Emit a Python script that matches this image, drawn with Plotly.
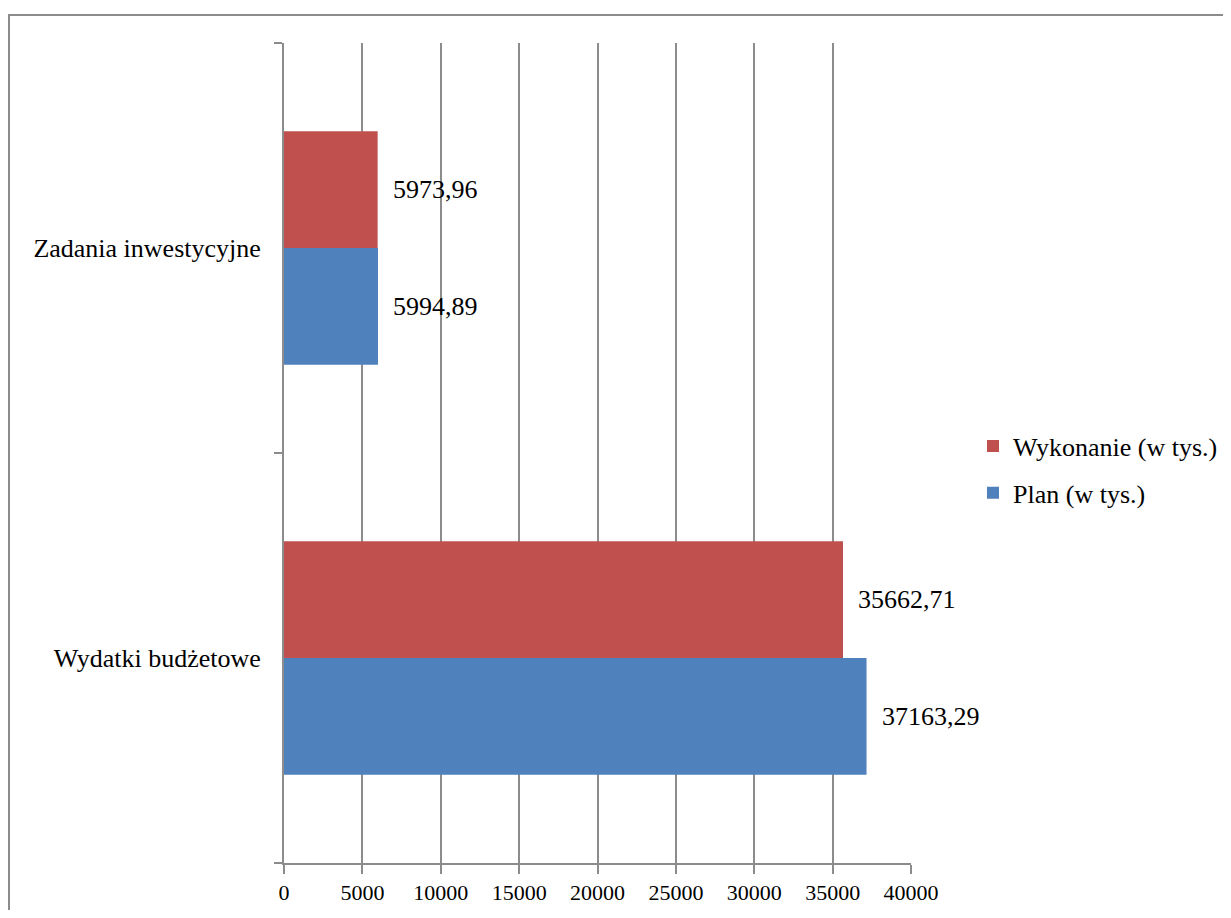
import plotly.graph_objects as go

categories = ["Wydatki budżetowe", "Zadania inwestycyjne"]
plan_values = [37163.29, 5994.89]
wykonanie_values = [35662.71, 5973.96]
series_names = ["Plan (w tys.)", "Wykonanie (w tys.)"]
x_tick_values = [0, 5000, 10000, 15000, 20000, 25000, 30000, 35000, 40000]

FONT = "Liberation Serif, Times New Roman, serif"
GRAY = "#8c8c8c"
BLUE = "#4f81bd"
RED = "#c0504d"

# page has an 8px body margin; figure is sized to fit the window
OFF = 8
W, H = 1231 - 2 * OFF, 918 - 2 * OFF
L, R, T, B = 284 - OFF, 911 - OFF, 43 - OFF, 863 - OFF

def fmt(v):
    return f"{v:.2f}".replace(".", ",")

fig = go.Figure()
fig.add_trace(go.Bar(y=categories, x=plan_values, orientation="h", name=series_names[0],
                     marker=dict(color=BLUE, line=dict(width=0)), legendrank=2, legendgroup="p"))
fig.add_trace(go.Bar(y=categories, x=wykonanie_values, orientation="h", name=series_names[1],
                     marker=dict(color=RED, line=dict(width=0)), legendrank=1, legendgroup="w"))

bargap = 0.43
bar_px = (B - T) / len(categories) * (1 - bargap) / 2
for vals, sign in ((plan_values, -1), (wykonanie_values, 1)):
    for c, v in zip(categories, vals):
        fig.add_annotation(x=v, y=c, text=fmt(v), showarrow=False, xanchor="left",
                           xshift=13, yshift=sign * bar_px / 2,
                           font=dict(family=FONT, size=26, color="black"))

# outer frame
fig.add_shape(type="rect", xref="paper", yref="paper",
              x0=(9 - OFF - L) / (R - L), x1=(1400 - L) / (R - L),
              y0=(B - 1200) / (B - T), y1=(B - (15 - OFF)) / (B - T),
              line=dict(color=GRAY, width=2), layer="below")

fig.update_layout(
    width=W, height=H,
    margin=dict(l=L, r=W - R, t=T, b=H - B, autoexpand=False),
    paper_bgcolor="white", plot_bgcolor="white",
    barmode="group", bargap=bargap, bargroupgap=0,
    font=dict(family=FONT, size=26, color="black"),
    legend=dict(x=(973 - OFF - L) / (R - L), y=(B - (469.5 - OFF)) / (B - T),
                xanchor="left", yanchor="middle", traceorder="grouped", tracegroupgap=10,
                font=dict(family=FONT, size=26, color="black")),
    xaxis=dict(range=[0, 40000], tickvals=x_tick_values, ticktext=[str(v) for v in x_tick_values],
               showgrid=True, gridcolor=GRAY, gridwidth=2, zeroline=False,
               showline=True, linecolor=GRAY, linewidth=2, automargin=False,
               ticks="outside", ticklen=9, tickwidth=2, tickcolor=GRAY,
               tickfont=dict(family=FONT, size=22), ticklabelstandoff=0),
    yaxis=dict(showgrid=False, zeroline=False, showline=True, linecolor=GRAY, linewidth=2,
               automargin=False,
               ticks="outside", tickson="boundaries", ticklen=8, tickwidth=2, tickcolor=GRAY,
               tickfont=dict(family=FONT, size=26), ticklabelstandoff=16,
               range=[-0.5, 1.5]),
)

fig.write_html("out.html")
